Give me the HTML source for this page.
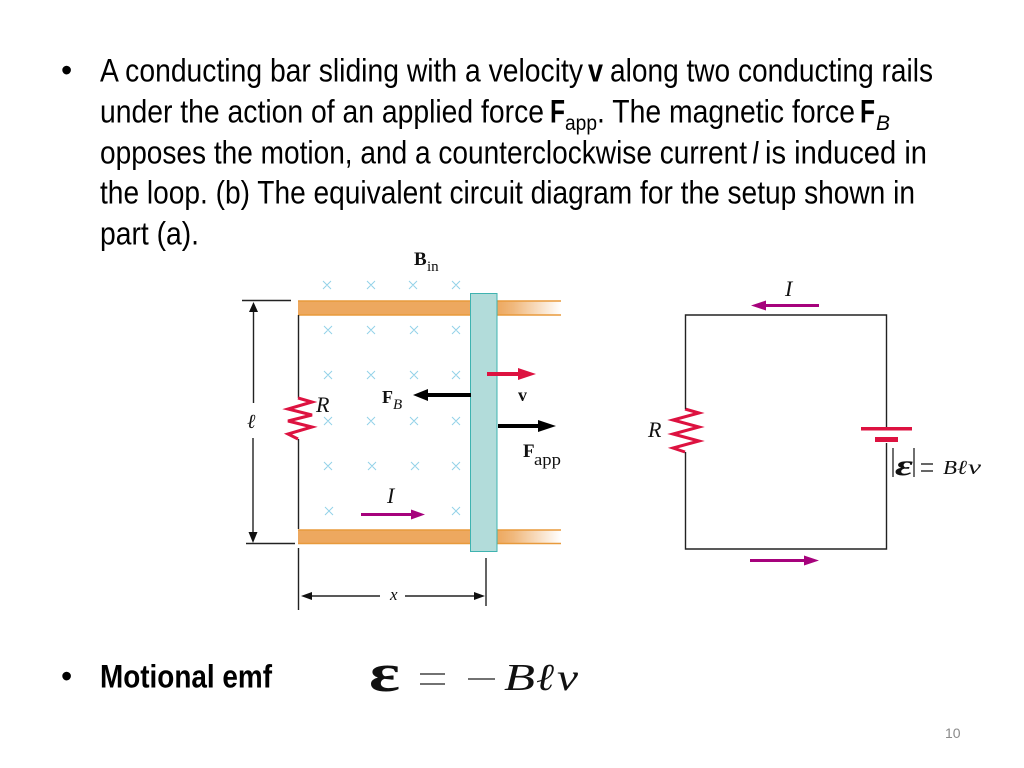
<!DOCTYPE html>
<html><head><meta charset="utf-8"><style>
html,body{margin:0;padding:0;background:#fff;width:1024px;height:768px;overflow:hidden}
svg{display:block}
.t{font-family:"Liberation Sans",sans-serif;font-size:32px;fill:#000}
.b{font-weight:bold}
.s{font-family:"Liberation Serif",serif;fill:#111}
</style></head><body>
<svg width="1024" height="768" viewBox="0 0 1024 768" xmlns="http://www.w3.org/2000/svg">
<defs>
<linearGradient id="f"><stop offset="0" stop-color="#eda85f"/><stop offset="0.25" stop-color="#f0b87c"/><stop offset="1" stop-color="#fff"/></linearGradient>
</defs>
<rect width="1024" height="768" fill="#fff"/>
<g class="t">
<text x="61" y="81">•</text>
<text x="100" y="81.5" textLength="483" lengthAdjust="spacingAndGlyphs">A conducting bar sliding with a velocity</text>
<text x="588" y="81.5" class="b" textLength="15" lengthAdjust="spacingAndGlyphs">v</text>
<text x="610" y="81.5" textLength="323" lengthAdjust="spacingAndGlyphs">along two conducting rails</text>
<text x="100" y="122.5" textLength="444" lengthAdjust="spacingAndGlyphs">under the action of an applied force</text>
<text x="550" y="122.5" class="b" textLength="15" lengthAdjust="spacingAndGlyphs">F</text>
<text x="565" y="130" style="font-size:21px" textLength="32" lengthAdjust="spacingAndGlyphs">app</text>
<text x="597" y="122.5" textLength="258" lengthAdjust="spacingAndGlyphs">. The magnetic force</text>
<text x="860" y="122.5" class="b" textLength="15" lengthAdjust="spacingAndGlyphs">F</text>
<text x="876" y="130" style="font-size:21px;font-style:italic" textLength="14" lengthAdjust="spacingAndGlyphs">B</text>
<text x="100" y="163.5" textLength="647" lengthAdjust="spacingAndGlyphs">opposes the motion, and a counterclockwise current</text>
<text x="752" y="163.5" style="font-style:italic" textLength="7" lengthAdjust="spacingAndGlyphs">I</text>
<text x="765" y="163.5" textLength="162" lengthAdjust="spacingAndGlyphs">is induced in</text>
<text x="100" y="203.5" textLength="815" lengthAdjust="spacingAndGlyphs">the loop. (b) The equivalent circuit diagram for the setup shown in</text>
<text x="100" y="244.5" textLength="99" lengthAdjust="spacingAndGlyphs">part (a).</text>
<text x="61" y="687">•</text>
<text x="100" y="687.5" class="b" textLength="172" lengthAdjust="spacingAndGlyphs">Motional emf</text>
</g>
<text x="945" y="738" font-family="Liberation Sans,sans-serif" font-size="14" fill="#8a8a8a">10</text>

<!-- crosses -->
<g stroke="#93d2e8" stroke-width="1" fill="none">
<path d="M323 281l8 8m0-8l-8 8M367 281l8 8m0-8l-8 8M409 281l8 8m0-8l-8 8M452 281l8 8m0-8l-8 8"/>
<path d="M324 326l8 8m0-8l-8 8M367 326l8 8m0-8l-8 8M410 326l8 8m0-8l-8 8M452 326l8 8m0-8l-8 8"/>
<path d="M324 371l8 8m0-8l-8 8M367 371l8 8m0-8l-8 8M410 371l8 8m0-8l-8 8M452 371l8 8m0-8l-8 8"/>
<path d="M324 417l8 8m0-8l-8 8M367 417l8 8m0-8l-8 8M410 417l8 8m0-8l-8 8M452 417l8 8m0-8l-8 8"/>
<path d="M324 462l8 8m0-8l-8 8M368 462l8 8m0-8l-8 8M411 462l8 8m0-8l-8 8M452 462l8 8m0-8l-8 8"/>
<path d="M325 507l8 8m0-8l-8 8M452 507l8 8m0-8l-8 8"/>
</g>

<!-- rails -->
<g>
<rect x="298" y="301" width="173" height="14" fill="#eda85f"/>
<rect x="497" y="301" width="64" height="14" fill="url(#f)"/>
<rect x="298" y="530" width="173" height="14" fill="#eda85f"/>
<rect x="497" y="530" width="64" height="14" fill="url(#f)"/>
<path d="M298 301H561M298 315H561M298 530H561M298 543.5H561" stroke="#e89a3c" stroke-width="1.4" fill="none"/>
</g>
<rect x="470.5" y="293.5" width="26.5" height="258" fill="#b2dcda" stroke="#3fb3b0" stroke-width="1"/>

<!-- left wire and dimensions -->
<g stroke="#222" stroke-width="1.4" fill="none">
<path d="M298.5 315V398M298.5 439V529M298.5 548V610M486 558V606"/>
<path d="M242 300.5H291M246 543.5H295"/>
<path d="M253.5 310V403M253 438V535"/>
<path d="M308 596H380M405 596H478"/>
</g>
<g fill="#111">
<path d="M253.5 302l-4.5 10h9z"/>
<path d="M253 543l-4.5-11h9z"/>
<path d="M301 596l11-4v8z"/>
<path d="M485 596l-11-4v8z"/>
</g>
<g fill="none" stroke="#dd1240" stroke-width="3" stroke-linejoin="miter">
<path d="M298 398L312 402L288 409L312 415L288 421L312 427L288 434L298 439"/>
<path d="M685 409L699 413L673 420L699 427L673 434L699 441L673 448L685 452"/>
</g>

<!-- force arrows -->
<g>
<rect x="428" y="393" width="43" height="4" fill="#000"/>
<path d="M413 395l15-6v12z" fill="#000"/>
<rect x="498" y="424" width="40" height="4" fill="#000"/>
<path d="M556 426l-18-6v12z" fill="#000"/>
<rect x="487" y="372" width="33" height="4" fill="#dd1240"/>
<path d="M536 374l-18-6v12z" fill="#dd1240"/>
<rect x="361" y="513" width="52" height="3" fill="#a6027c"/>
<path d="M425 514.5l-14-5v10z" fill="#a6027c"/>
<rect x="764" y="304" width="55" height="3" fill="#a6027c"/>
<path d="M751 305.5l15-5v10z" fill="#a6027c"/>
<rect x="750" y="559" width="56" height="3" fill="#a6027c"/>
<path d="M819 560.5l-15-5v10z" fill="#a6027c"/>
</g>

<!-- circuit -->
<g stroke="#222" stroke-width="1.4" fill="none">
<path d="M685.5 409V315H886.5V428M886.5 443V549H685.5V452"/>
</g>
<rect x="861" y="427" width="51" height="3.5" fill="#dd1240"/>
<rect x="875" y="437" width="23" height="5" fill="#dd1240"/>
<path d="M893 448V477M914 448V477" stroke="#222" stroke-width="1.3"/>
<path d="M921 464H933M921 471H933" stroke="#333" stroke-width="1.4"/>

<!-- diagram labels -->
<g class="s">
<text x="414" y="265" font-size="19" font-weight="bold">B</text>
<text x="427" y="271" font-size="15">in</text>
<text x="316" y="412" font-size="22" font-style="italic">R</text>
<text x="382" y="403" font-size="18" font-weight="bold">F</text>
<text x="393" y="409" font-size="15" font-style="italic">B</text>
<text x="518" y="401" font-size="18" font-weight="bold">v</text>
<text x="523" y="457" font-size="19" font-weight="bold">F</text>
<text x="534" y="465" font-size="17" textLength="27" lengthAdjust="spacingAndGlyphs">app</text>
<text x="247" y="428" font-size="20" font-style="italic">ℓ</text>
<text x="387" y="503" font-size="22" font-style="italic">I</text>
<text x="390" y="600" font-size="17" font-style="italic">x</text>
<text x="785" y="296" font-size="22" font-style="italic">I</text>
<text x="648" y="437" font-size="22" font-style="italic">R</text>
<text x="895" y="475" font-size="30" font-weight="bold" font-style="italic" textLength="18" lengthAdjust="spacingAndGlyphs">ε</text>
<text x="943" y="474" font-size="20" font-style="italic" textLength="14" lengthAdjust="spacingAndGlyphs">B</text>
<text x="957" y="474" font-size="20" font-style="italic" textLength="10" lengthAdjust="spacingAndGlyphs">ℓ</text>
<text x="968" y="474" font-size="20" font-style="italic" textLength="13" lengthAdjust="spacingAndGlyphs">v</text>
<text x="369" y="691" font-size="54" font-weight="bold" textLength="31" lengthAdjust="spacingAndGlyphs">ε</text>
<path d="M420 674H445M420 684H445M468 679H495" stroke="#444" stroke-width="1.4" fill="none"/>
<text x="504" y="690" font-size="38" font-style="italic" textLength="31" lengthAdjust="spacingAndGlyphs">B</text>
<text x="536" y="690" font-size="38" font-style="italic" textLength="18" lengthAdjust="spacingAndGlyphs">ℓ</text>
<text x="557" y="690" font-size="38" font-style="italic" textLength="21" lengthAdjust="spacingAndGlyphs">v</text>
</g>
</svg>
</body></html>
